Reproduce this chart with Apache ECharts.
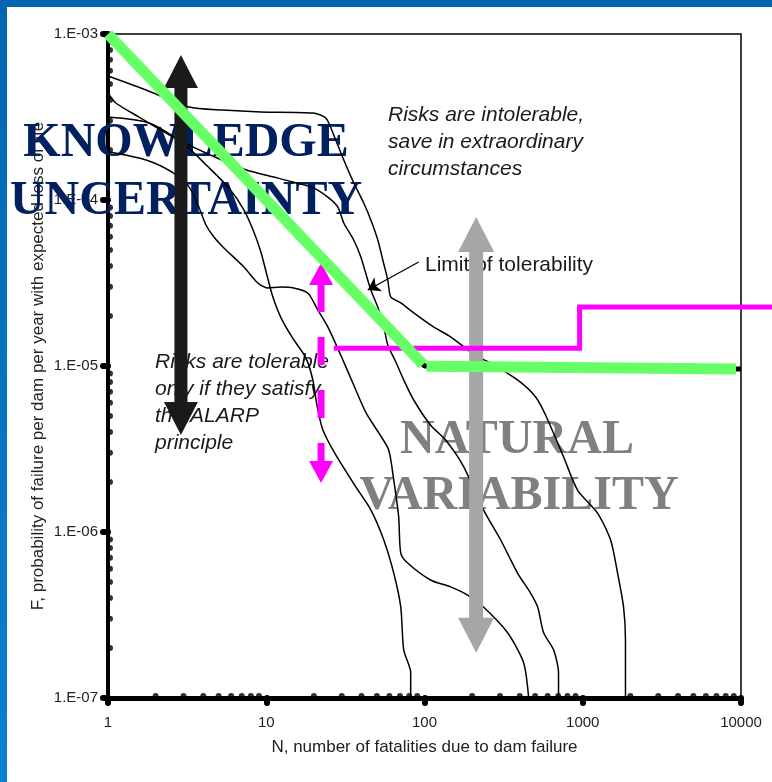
<!DOCTYPE html>
<html><head><meta charset="utf-8">
<script src="https://cdn.jsdelivr.net/npm/echarts@6/dist/echarts.min.js"></script>
<style>html,body{margin:0;padding:0;background:#fff}#c{width:772px;height:782px}</style>
</head><body><div id="c"></div>
<script>
// ---- tick values ----
const xMajor = [1, 10, 100, 1000, 10000];
const yMajor = [1e-7, 1e-6, 1e-5, 1e-4, 1e-3];
const minorMult = [2, 3, 4, 5, 6, 7, 8, 9];

// ---- F-N curves [N, F] ----
const curveA = [[1,5.58e-4],[1.74,4.60e-4],[3.25,3.63e-4],[5.32,3.48e-4],[9.25,3.39e-4],[19.7,3.34e-4],[23.8,3.12e-4],[26.7,2.46e-4],[30.9,1.74e-4],[35.7,1.27e-4],[41.3,9.59e-5],[45.8,7.58e-5],[50.7,5.74e-5],[54.5,4.35e-5],[58.6,3.30e-5],[61.2,2.61e-5],[70.8,2.40e-5],[85.5,2.09e-5],[114,1.72e-5],[146,1.50e-5],[210,1.16e-5],[262,1.04e-5],[387,8.24e-6],[504,6.51e-6],[582,5.07e-6],[757,2.83e-6],[927,1.79e-6],[1240,1.30e-6],[1500,8.95e-7],[1660,5.66e-7],[1811,3.53e-7],[1862,2.23e-7],[1862,1e-7]];
const curveB = [[1,4.41e-4],[1.12,3.84e-4],[1.57,3.16e-4],[2.57,2.40e-4],[4.16,1.92e-4],[7.43,1.52e-4],[11.0,1.38e-4],[14.9,1.28e-4],[20.0,1.18e-4],[24.5,1.04e-4],[28.3,9.08e-5],[30.9,7.27e-5],[35.7,5.74e-5],[39.6,4.54e-5],[42.5,3.63e-5],[45.8,2.87e-5],[50.7,2.26e-5],[55.3,1.72e-5],[58.6,1.34e-5],[65.8,1.06e-5],[73.9,8.24e-6],[85.5,6.24e-6],[109,4.41e-6],[136,3.58e-6],[177,2.47e-6],[236,1.36e-6],[303,8.95e-7],[387,5.66e-7],[468,4.29e-7],[519,3.53e-7],[566,2.47e-7],[654,1.95e-7],[703,1.42e-7],[703,1e-7]];
const curveC = [[1,3.16e-4],[1.81,2.91e-4],[2.97,2.21e-4],[4.16,1.63e-4],[5.81,1.18e-4],[7.22,8.71e-5],[8.35,6.42e-5],[9.25,4.86e-5],[10.1,3.53e-5],[11.0,2.61e-5],[12.4,1.95e-5],[14.7,1.47e-5],[17.8,1.12e-5],[19.7,8.24e-6],[20.9,5.82e-6],[22.8,4.11e-6],[27.5,2.91e-6],[36.8,1.87e-6],[45.8,1.36e-6],[55.3,8.95e-7],[63.9,5.66e-7],[70.8,3.53e-7],[73.9,1.95e-7],[81.8,1.42e-7],[81.8,1e-7]];
const curveD = [[1,1.95e-4],[1.74,1.74e-4],[2.57,1.46e-4],[3.25,1.20e-4],[3.75,9.08e-5],[4.16,7.07e-5],[4.67,5.98e-5],[5.40,5.14e-5],[7.22,3.95e-5],[8.85,3.16e-5],[10.2,2.95e-5],[12.4,2.99e-5],[14.9,2.95e-5],[18.3,2.75e-5],[21.2,2.17e-5],[24.5,1.72e-5],[29.6,1.16e-5],[35.7,7.69e-6],[42.5,5.28e-6],[51.4,3.95e-6],[59.4,3.12e-6],[63.9,2.06e-6],[68.7,1.23e-6],[70.8,7.47e-7],[78.3,6.50e-7],[109,5.14e-7],[146,4.67e-7],[187,4.17e-7],[236,3.53e-7],[335,2.47e-7],[423,1.63e-7],[455,1e-7]];

// ---- criteria lines ----
const limitLine = [[1,1e-3],[100,1e-5],[10000,9.6e-6]];
const greenDiag = [[1,1e-3],[98,1.02e-5]];
const greenFlat = [[103,9.95e-6],[9300,9.6e-6]];
const magentaStep = [[26.7,1.28e-5],[955,1.28e-5],[955,2.27e-5],[15800,2.27e-5]];

// ---- arrows [N, Ftop, Fbottom] ----
const arrowKnowledge = [[2.89, 7.47e-4, 3.84e-6]];
const arrowNatural = [[212, 7.9e-5, 1.87e-7]];
const arrowAlarp = [[22.2, 4.17e-5, 1.97e-6]];
const limitPointer = [[91.9, 4.23e-5], [43.8, 2.87e-5]];

// ---- text ----
const xTitle = 'N, number of fatalities due to dam failure';
const yTitle = 'F, probability of failure per dam per year with expected loss of life';

const xMinorDots = xMajor.slice(0, 4).flatMap(d => minorMult.map(m => [m * d, yMajor[0]]));
const yMinorDots = yMajor.slice(0, 4).flatMap(d => minorMult.map(m => [xMajor[0], m * d]));

const SANS = '"Liberation Sans", Arial, sans-serif';
const SERIF = '"Liberation Serif", "Times New Roman", serif';

function dblArrow(hw, sw, hl, color) {
  return function (params, api) {
    const p1 = api.coord([api.value(0), api.value(1)]);
    const p2 = api.coord([api.value(0), api.value(2)]);
    const cx = p1[0], y1 = p1[1], y2 = p2[1];
    return {
      type: 'polygon',
      shape: { points: [[cx, y1], [cx + hw, y1 + hl], [cx + sw, y1 + hl], [cx + sw, y2 - hl], [cx + hw, y2 - hl], [cx, y2], [cx - hw, y2 - hl], [cx - sw, y2 - hl], [cx - sw, y1 + hl], [cx - hw, y1 + hl]] },
      style: { fill: color }
    };
  };
}
function dashArrow(params, api) {
  const p1 = api.coord([api.value(0), api.value(1)]);
  const p2 = api.coord([api.value(0), api.value(2)]);
  const cx = p1[0], y1 = p1[1], y2 = p2[1];
  const hw = 12, hl = 22, c = '#ff00ff';
  return {
    type: 'group',
    children: [
      { type: 'polygon', shape: { points: [[cx, y1], [cx + hw, y1 + hl], [cx - hw, y1 + hl]] }, style: { fill: c } },
      { type: 'polygon', shape: { points: [[cx, y2], [cx + hw, y2 - hl], [cx - hw, y2 - hl]] }, style: { fill: c } },
      { type: 'line', shape: { x1: cx, y1: y1 + hl - 1, x2: cx, y2: y2 - hl + 1 }, style: { stroke: c, lineWidth: 7, lineDash: [28, 25] } }
    ]
  };
}
function stepLine(params, api) {
  if (params.dataIndex !== 0) return null;
  return {
    type: 'polyline',
    shape: { points: magentaStep.map(p => api.coord(p)) },
    style: { stroke: '#ff00ff', lineWidth: 5, fill: null }
  };
}

const chart = echarts.init(document.getElementById('c'), null, { renderer: 'canvas' });
const curveStyle = { color: '#000', width: 1.5 };
function curve(data) {
  return { type: 'line', data, showSymbol: false, symbol: 'none', smooth: 0.25, lineStyle: curveStyle, z: 3, silent: true };
}

chart.setOption({
  animation: false,
  backgroundColor: '#fff',
  grid: { left: 108, right: 31, top: 34, bottom: 84, show: true, borderColor: '#000', borderWidth: 1.5, containLabel: false },
  xAxis: {
    type: 'log', logBase: 10, min: 1, max: 10000,
    axisLine: { lineStyle: { color: '#000', width: 5 } },
    axisTick: { show: true, length: 5, lineStyle: { color: '#000', width: 6, cap: 'round' } },
    splitLine: { show: false },
    axisLabel: { margin: 17, fontSize: 15, color: '#222', fontFamily: SANS, formatter: v => String(Math.round(v)) },
    name: xTitle, nameLocation: 'middle', nameGap: 41,
    nameTextStyle: { fontSize: 17, color: '#222', fontFamily: SANS }
  },
  yAxis: {
    type: 'log', logBase: 10, min: 1e-7, max: 1e-3,
    axisLine: { lineStyle: { color: '#000', width: 4 } },
    axisTick: { show: true, length: 5, lineStyle: { color: '#000', width: 6, cap: 'round' } },
    splitLine: { show: false },
    axisLabel: { margin: 10, fontSize: 15, color: '#222', fontFamily: SANS, formatter: v => '1.E-0' + Math.round(-Math.log10(v)) },
    name: yTitle, nameLocation: 'middle', nameGap: 61, nameMoveOverlap: false,
    nameTextStyle: { fontSize: 17, color: '#222', fontFamily: SANS }
  },
  graphic: [
    { type: 'rect', shape: { x: 0, y: 0, width: 772, height: 7 }, style: { fill: '#0366b0' }, z: 20 },
    { type: 'rect', shape: { x: 0, y: 0, width: 7, height: 782 }, style: { fill: new echarts.graphic.LinearGradient(0, 0, 0, 1, [{ offset: 0, color: '#0366b0' }, { offset: 1, color: '#0a80d2' }]) }, z: 20 },
    { type: 'text', x: 186, y: 144, z: 1.5, style: { text: 'KNOWLEDGE', font: 'bold 48px ' + SERIF, fill: '#002060', align: 'center', verticalAlign: 'middle' } },
    { type: 'text', x: 186, y: 202, z: 1.5, style: { text: 'UNCERTAINTY', font: 'bold 48px ' + SERIF, fill: '#002060', align: 'center', verticalAlign: 'middle' } },
    { type: 'text', x: 517, y: 441, z: 1.5, style: { text: 'NATURAL', font: 'bold 48px ' + SERIF, fill: '#808080', align: 'center', verticalAlign: 'middle' } },
    { type: 'text', x: 519, y: 497, z: 1.5, style: { text: 'VARIABILITY', font: 'bold 48px ' + SERIF, fill: '#808080', align: 'center', verticalAlign: 'middle' } },
    { type: 'text', x: 388, y: 102, z: 1.5, style: { text: 'Risks are intolerable,\nsave in extraordinary\ncircumstances', font: 'italic 21px ' + SANS, lineHeight: 27, fill: '#1a1a1a', align: 'left', verticalAlign: 'top' } },
    { type: 'text', x: 155, y: 349, z: 1.5, style: { text: 'Risks are tolerable\nonly if they satisfy\nthe ALARP\nprinciple', font: 'italic 21px ' + SANS, lineHeight: 27, fill: '#1a1a1a', align: 'left', verticalAlign: 'top' } },
    { type: 'text', x: 425, y: 252, z: 1.5, style: { text: 'Limit of tolerability', font: '21px ' + SANS, lineHeight: 27, fill: '#1a1a1a', align: 'left', verticalAlign: 'top' } }
  ],
  series: [
    { type: 'scatter', data: xMinorDots, symbol: 'circle', symbolSize: 6, symbolOffset: [0, -2], itemStyle: { color: '#000' }, clip: false, z: 1, silent: true },
    { type: 'scatter', data: yMinorDots, symbol: 'circle', symbolSize: 6, symbolOffset: [2, 0], itemStyle: { color: '#000' }, clip: false, z: 1, silent: true },
    curve(curveA), curve(curveB), curve(curveC), curve(curveD),
    { type: 'line', data: limitLine, symbol: 'none', lineStyle: { color: '#000', width: 5 }, clip: false, z: 4 },
    { type: 'custom', data: arrowKnowledge, renderItem: dblArrow(17, 6.5, 33, '#1a1a1a'), encode: { x: 0, y: [1, 2] }, clip: false, z: 5, silent: true },
    { type: 'custom', data: arrowNatural, renderItem: dblArrow(18, 7, 35, '#a6a6a6'), encode: { x: 0, y: [1, 2] }, clip: false, z: 5, silent: true },
    { type: 'custom', data: arrowAlarp, renderItem: dashArrow, encode: { x: 0, y: [1, 2] }, clip: false, z: 6, silent: true },
    { type: 'custom', data: magentaStep, renderItem: stepLine, encode: { x: 0, y: 1 }, clip: false, z: 6, silent: true },
    { type: 'line', data: greenDiag, symbol: 'none', lineStyle: { color: '#66ff66', width: 11, cap: 'butt' }, clip: false, z: 7 },
    { type: 'line', data: greenFlat, symbol: 'none', lineStyle: { color: '#66ff66', width: 11, cap: 'butt' }, clip: false, z: 7 },
    { type: 'lines', coordinateSystem: 'cartesian2d', data: [{ coords: limitPointer }], symbol: ['none', 'arrow'], symbolSize: 12, lineStyle: { color: '#000', width: 1.3, opacity: 1, curveness: 0 }, z: 8, silent: true }
  ]
});
</script></body></html>
